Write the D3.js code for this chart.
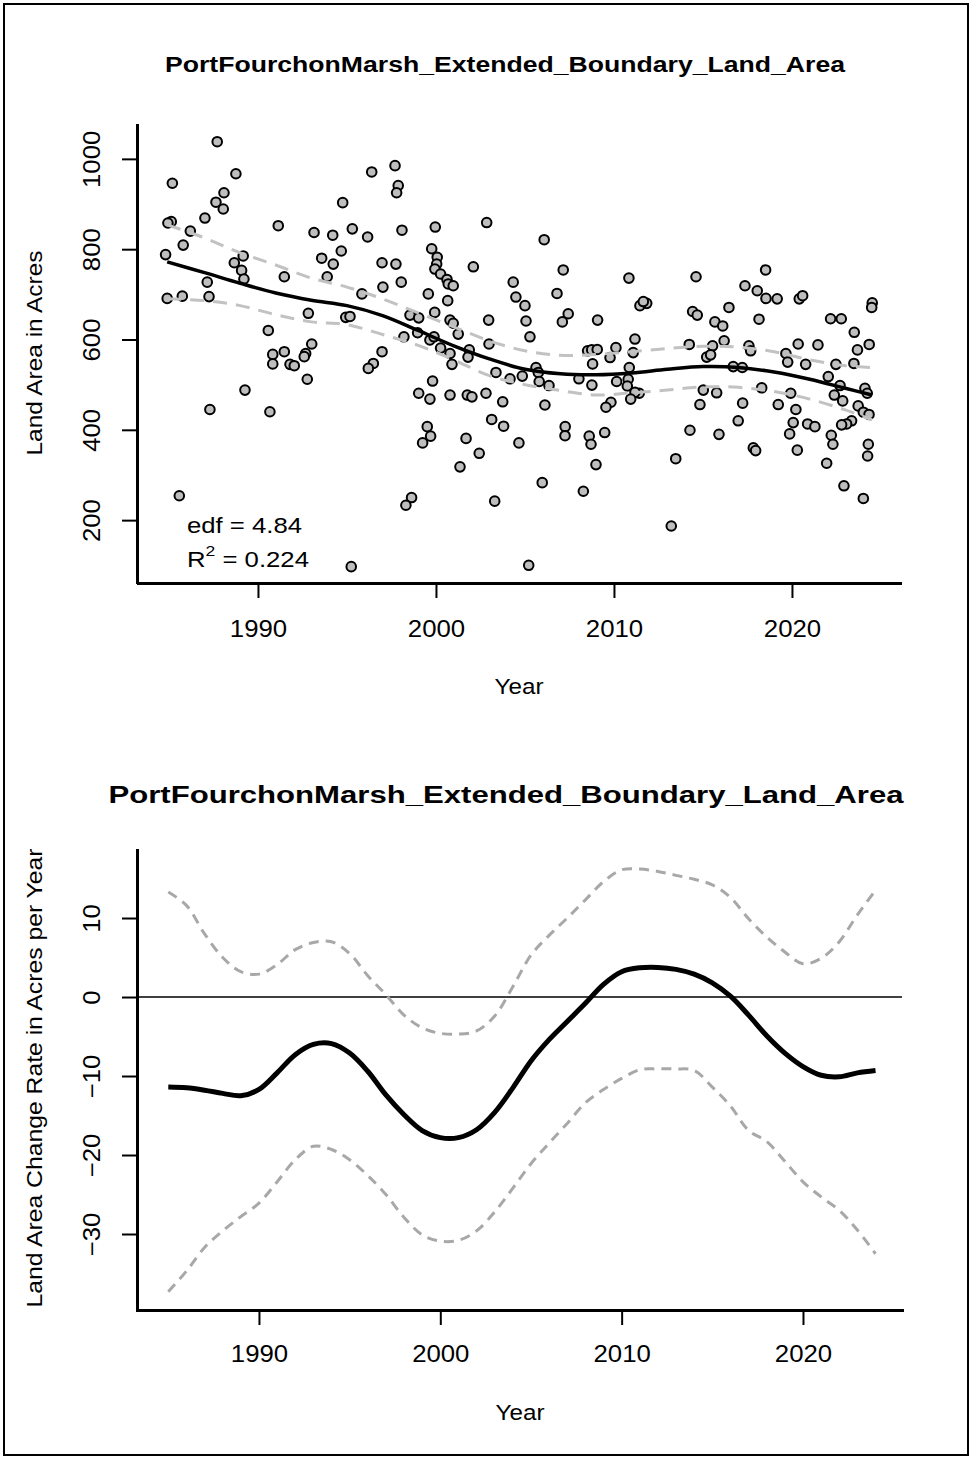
<!DOCTYPE html>
<html><head><meta charset="utf-8">
<script src="https://cdn.jsdelivr.net/npm/d3@7"></script>
<style>body{margin:0;background:#fff} text{font-family:"Liberation Sans", Arial, Helvetica, sans-serif;}</style>
</head><body>
<svg id="chart" width="972" height="1458"></svg>
<script>
// ---------- data ----------
const titleText = "PortFourchonMarsh_Extended_Boundary_Land_Area";
const xTickValues = [1990, 2000, 2010, 2020];
const topYTicks = [200, 400, 600, 800, 1000];
const bottomYTicks = [-30, -20, -10, 0, 10];

const pointYears = [1987.71,1985.19,1988.76,1988.09,1987.64,1988.05,1987.02,1985.13,1984.94,1986.20,1991.14,1993.15,1985.80,1984.81,1989.17,1988.67,1989.08,1989.21,1987.15,1991.48,1993.58,1993.89,1984.90,1985.75,1987.25,1992.83,1990.58,1993.02,1990.83,1991.48,1992.68,1990.83,1991.80,1992.04,1992.60,1992.77,1989.27,1987.30,1990.67,1985.58,
1996.39,1997.70,1997.88,1997.79,1994.76,2002.85,1994.20,1995.30,1996.16,1998.09,1999.96,1994.68,1994.23,1996.97,1997.75,1998.05,1997.02,1995.84,1999.76,2000.07,2000.04,1999.94,2000.26,2000.62,2000.69,2000.97,2002.10,1999.57,2000.66,1999.93,2004.34,2004.49,2002.96,2000.79,2000.97,2001.25,1998.54,1999.03,1994.93,1995.17,1998.97,1998.20,1999.66,1999.89,2000.26,2000.79,2000.90,2001.87,2001.80,2002.98,1996.97,1996.48,1996.20,2003.37,2004.16,1999.81,1999.03,1999.66,2000.79,2001.76,2002.02,2002.81,2003.75,2003.13,2003.80,1999.51,1999.70,1999.25,2001.69,2002.43,2001.35,2004.66,1998.63,1998.31,2003.30,1995.24,
2006.08,2007.15,2010.84,2014.61,2005.00,2006.80,2007.43,2007.10,2005.06,2005.28,2009.08,2011.46,2011.84,2011.65,2014.42,2014.68,2011.18,2014.23,2008.52,2008.75,2009.06,2010.11,2009.78,2011.08,2008.80,2010.86,2005.62,2005.75,2004.85,2005.80,2006.35,2008.03,2008.76,2010.15,2010.80,2010.75,2011.42,2011.18,2010.94,2009.83,2009.55,2006.12,2015.21,2015.02,2014.83,2014.27,2007.26,2007.25,2008.61,2008.71,2009.48,2008.99,2005.97,2008.28,2013.47,2013.22,2005.21,
2018.52,2017.36,2018.05,2018.54,2019.17,2020.41,2020.60,2016.46,2015.67,2016.11,2018.15,2024.51,2024.48,2022.17,2022.77,2023.50,2016.19,2015.54,2015.43,2017.58,2017.68,2020.35,2021.46,2024.34,2023.68,2019.66,2019.76,2020.77,2022.47,2023.48,2016.70,2017.21,2022.04,2022.70,2024.10,2024.23,2015.77,2018.30,2019.93,2022.38,2022.85,2023.72,2017.23,2019.23,2020.22,2024.01,2024.33,2016.98,2020.07,2020.88,2021.29,2023.35,2023.07,2022.79,2019.87,2022.21,2022.30,2015.90,2017.83,2017.96,2020.30,2024.29,2024.25,2021.95,2022.92,2024.01];
const pointAcres = [1038,946,967,925,904,889,869,861,858,840,852,837,809,788,785,770,753,734,727,739,780,739,691,696,695,658,620,590,567,573,569,546,545,542,562,512,488,445,440,254,
971,985,941,925,903,859,831,845,827,842,849,796,767,770,767,727,716,701,801,782,767,756,745,733,723,719,761,701,686,660,727,694,643,643,636,612,654,648,649,651,615,606,599,606,581,569,545,577,561,590,573,547,536,527,513,508,481,468,477,477,473,481,462,423,408,407,386,371,381,348,318,371,250,233,242,97,
821,754,736,739,675,702,657,639,641,606,643,675,680,684,662,654,601,589,575,577,578,582,560,571,546,538,538,527,519,507,498,513,499,507,512,497,481,483,468,461,450,455,561,488,456,399,407,387,386,368,394,323,283,264,336,187,100,
754,719,708,691,690,690,697,671,639,630,645,681,671,646,646,616,597,586,566,586,575,590,588,589,577,569,550,545,545,547,540,538,518,498,492,481,482,493,481,477,464,453,459,456,445,439,434,420,416,413,407,420,413,411,391,388,368,390,360,354,355,368,342,326,276,248];

const fitYears = [1984.9,1987,1989,1991,1993,1995,1997,1999,2001,2003,2005,2007,2009,2011,2013,2015,2017,2019,2021,2023,2024.5];
const fitAcres = [772,748,724.5,703,687,675,653,620,586,557,534,524,522,526,534,540,538,528,512,492,477];
const fitUpper = [854,825,792,765,736,716,690,659,628,597,575,565,567,573,580,585,583,573,555,542,538];
const fitLower = [690,686,675,655,639,633,611,587,555,520,500,487,477,482,488,495,494,485,468,444,422];

const rateYears = [1985,1986,1987,1988,1989,1990,1991,1992,1993,1994,1995,1996,1997,1998,1999,2000,2001,2002,2003,2004,2005,2006,2007,2008,2009,2010,2011,2012,2013,2014,2015,2016,2017,2018,2019,2020,2021,2022,2023,2024];
const rateFit = [-11.4,-11.5,-11.8,-12.2,-12.5,-11.7,-9.6,-7.3,-6.0,-5.9,-7.1,-9.4,-12.4,-14.9,-16.9,-17.8,-17.8,-16.8,-14.6,-11.5,-8.1,-5.4,-3.1,-0.8,1.6,3.2,3.7,3.75,3.5,2.9,1.8,0.1,-2.3,-4.9,-7.1,-8.8,-9.9,-10.1,-9.6,-9.3];
const rateUpper = [13.3,11.6,8.0,5.0,3.2,2.9,4.1,6.0,6.9,7.0,5.5,2.7,0.3,-2.3,-3.9,-4.6,-4.7,-4.3,-2.4,1.3,5.3,7.8,10.0,12.3,14.6,16.1,16.2,15.9,15.4,14.9,14.2,12.6,9.9,7.6,5.7,4.2,4.9,7.0,10.4,13.5];
const rateLower = [-37.3,-34.7,-31.7,-29.6,-27.8,-26.1,-23.4,-20.6,-18.9,-19.3,-20.6,-22.6,-25.0,-27.9,-30.1,-30.9,-30.8,-29.6,-27.2,-24.2,-21.1,-18.5,-16.0,-13.4,-11.7,-10.3,-9.2,-9.1,-9.1,-9.3,-11.4,-13.8,-16.9,-18.3,-20.8,-23.4,-25.3,-27.0,-29.5,-32.5];

// ---------- drawing ----------
const svg = d3.select("#chart");
svg.append("rect").attr("width",972).attr("height",1458).attr("fill","#fff");
svg.append("rect").attr("x",4).attr("y",4).attr("width",964).attr("height",1451)
  .attr("fill","none").attr("stroke","#000").attr("stroke-width",2);

function stretch(sel, f){
  sel.each(function(){
    const w = this.getComputedTextLength();
    this.setAttribute("textLength", w*f);
    this.setAttribute("lengthAdjust","spacingAndGlyphs");
  });
}
function fixLen(sel, w){ sel.attr("textLength", w).attr("lengthAdjust","spacingAndGlyphs"); }

function styleAxis(g){
  g.attr("font-family",'"Liberation Sans", Arial, sans-serif').attr("font-size",23);
  g.select(".domain").attr("stroke","#000").attr("stroke-width",3).attr("stroke-linecap","square");
  g.selectAll(".tick line").attr("stroke","#000").attr("stroke-width",2);
  g.selectAll(".tick text").attr("fill","#000");
}

// ===== Top panel =====
const xT = d3.scaleLinear().domain([1983.26, 2026.07]).range([138, 900]);
const yT = d3.scaleLinear().domain([63, 1075]).range([582, 125]);

const gxT = svg.append("g").attr("transform","translate(0,583)")
  .call(d3.axisBottom(xT).tickValues(xTickValues).tickSize(15).tickSizeOuter(0).tickFormat(d3.format("d")));
styleAxis(gxT);
gxT.selectAll(".tick text").attr("y",54).attr("dy",null);

const gyT = svg.append("g").attr("transform","translate(137,0)")
  .call(d3.axisLeft(yT).tickValues(topYTicks).tickSize(15).tickSizeOuter(0).tickFormat(d3.format("d")));
styleAxis(gyT);
gyT.selectAll(".tick text").attr("x",0).attr("y",-37).attr("dy",null)
  .attr("text-anchor","middle").attr("transform","rotate(-90)");

svg.append("g").selectAll("circle").data(pointYears.map((d,i)=>[d,pointAcres[i]])).join("circle")
  .attr("cx",d=>xT(d[0])).attr("cy",d=>yT(d[1])).attr("r",4.8)
  .attr("fill","#bebebe").attr("stroke","#000").attr("stroke-width",2);

const lineT = d3.line().x(d=>xT(d[0])).y(d=>yT(d[1])).curve(d3.curveCatmullRom);
[fitUpper, fitLower].forEach(arr=>{
  svg.append("path").attr("d", lineT(fitYears.map((y,i)=>[y,arr[i]])))
    .attr("fill","none").attr("stroke","#c2c2c2").attr("stroke-width",3).attr("stroke-dasharray","14,9");
});
svg.append("path").attr("d", lineT(fitYears.map((y,i)=>[y,fitAcres[i]])))
  .attr("fill","none").attr("stroke","#000").attr("stroke-width",3.5);

const t1 = svg.append("text").attr("x",505).attr("y",72).attr("text-anchor","middle")
  .attr("font-weight","bold").attr("font-size",22).text(titleText);
fixLen(t1, 680);

const xl1 = svg.append("text").attr("x",519).attr("y",694).attr("text-anchor","middle").attr("font-size",22).text("Year");
const yl1 = svg.append("text").attr("transform","translate(42,353) rotate(-90)").attr("text-anchor","middle").attr("font-size",22).text("Land Area in Acres");
fixLen(yl1, 205);

const edf = svg.append("text").attr("x",187).attr("y",533).attr("font-size",22).text("edf = 4.84");
fixLen(edf, 115);
const r2 = svg.append("text").attr("x",187).attr("y",567).attr("font-size",22);
r2.append("tspan").text("R");
r2.append("tspan").attr("dy",-11).attr("font-size",15).text("2");
r2.append("tspan").attr("dy",11).text(" = 0.224");
fixLen(r2, 122);

// ===== Bottom panel =====
const xB = d3.scaleLinear().domain([1983.33, 2025.46]).range([138, 902]);
const yB = d3.scaleLinear().domain([-39.62, 18.61]).range([1310, 850]);

const gxB = svg.append("g").attr("transform","translate(0,1310)")
  .call(d3.axisBottom(xB).tickValues(xTickValues).tickSize(15).tickSizeOuter(0).tickFormat(d3.format("d")));
styleAxis(gxB);
gxB.selectAll(".tick text").attr("y",52).attr("dy",null);

const gyB = svg.append("g").attr("transform","translate(137,0)")
  .call(d3.axisLeft(yB).tickValues(bottomYTicks).tickSize(15).tickSizeOuter(0));
styleAxis(gyB);
gyB.selectAll(".tick text").attr("x",0).attr("y",-37).attr("dy",null)
  .attr("text-anchor","middle").attr("transform","rotate(-90)");

svg.append("line").attr("x1",138).attr("x2",902).attr("y1",yB(0)).attr("y2",yB(0))
  .attr("stroke","#000").attr("stroke-width",1.6);

const lineB = d3.line().x(d=>xB(d[0])).y(d=>yB(d[1])).curve(d3.curveCatmullRom);
[rateUpper, rateLower].forEach(arr=>{
  svg.append("path").attr("d", lineB(rateYears.map((y,i)=>[y,arr[i]])))
    .attr("fill","none").attr("stroke","#a8a8a8").attr("stroke-width",3).attr("stroke-dasharray","10,7");
});
svg.append("path").attr("d", lineB(rateYears.map((y,i)=>[y,rateFit[i]])))
  .attr("fill","none").attr("stroke","#000").attr("stroke-width",5).attr("stroke-linejoin","round");

const t2 = svg.append("text").attr("x",506).attr("y",803).attr("text-anchor","middle")
  .attr("font-weight","bold").attr("font-size",23).text(titleText);
fixLen(t2, 795);

const xl2 = svg.append("text").attr("x",520).attr("y",1420).attr("text-anchor","middle").attr("font-size",22).text("Year");
const yl2 = svg.append("text").attr("transform","translate(42,1078) rotate(-90)").attr("text-anchor","middle").attr("font-size",22).text("Land Area Change Rate in Acres per Year");
fixLen(yl2, 459);

stretch(svg.selectAll(".tick text"), 1.12);
stretch(xl1, 1.1); stretch(xl2, 1.1);
</script>
</body></html>
